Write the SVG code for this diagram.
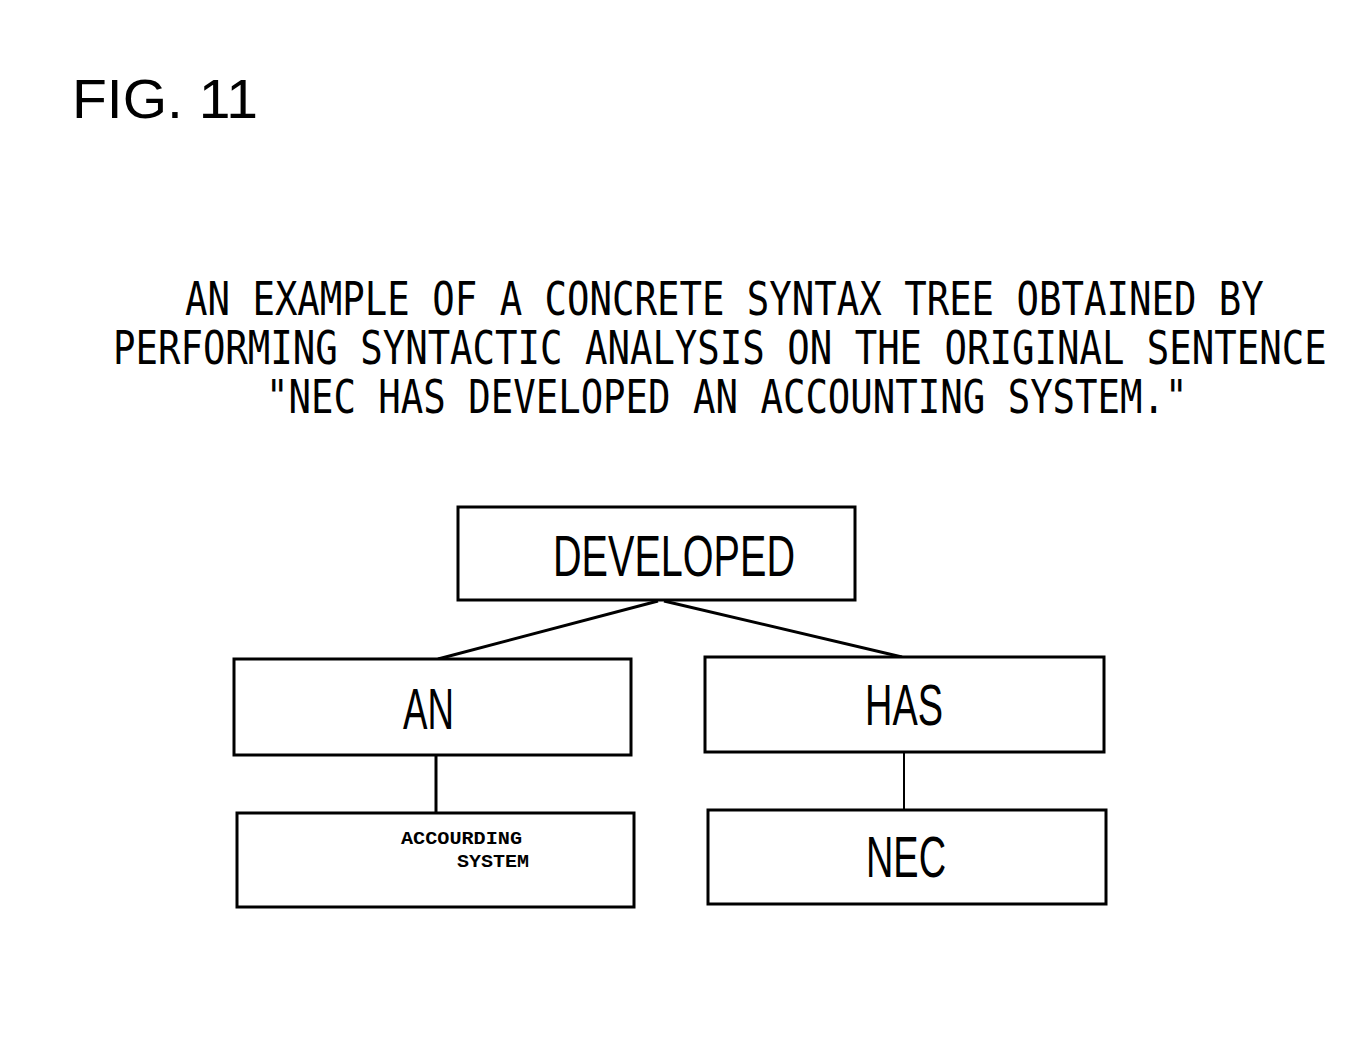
<svg xmlns="http://www.w3.org/2000/svg" width="1350" height="1054" viewBox="0 0 1350 1054">
<style>
.box{fill:#fff;stroke:#000;stroke-width:3}
.lbl{font-family:"Liberation Sans",Arial,sans-serif;font-size:57px;fill:#000}
.ttl{font-family:"DejaVu Sans Mono","Liberation Mono",monospace;font-size:46px;fill:#000}
.mono{font-family:"Liberation Mono","Courier New",monospace;font-weight:bold;font-size:19px;fill:#000}
.edge{stroke:#000;stroke-width:3;fill:none}
</style>
<rect width="1350" height="1054" fill="#fff"/>
<text x="72" y="118" font-family="Liberation Sans, Arial, sans-serif" font-size="55" textLength="186" lengthAdjust="spacingAndGlyphs">FIG. 11</text>
<g id="title">
<text class="ttl" transform="translate(185,315) scale(0.812,1)">AN EXAMPLE OF A CONCRETE SYNTAX TREE OBTAINED BY</text>
<text class="ttl" transform="translate(113,364) scale(0.812,1)">PERFORMING SYNTACTIC ANALYSIS ON THE ORIGINAL SENTENCE</text>
<text class="ttl" transform="translate(266,413) scale(0.812,1)">"NEC HAS DEVELOPED AN ACCOUNTING SYSTEM."</text>
</g>
<g id="connectors">
<line class="edge" x1="658" y1="601" x2="438" y2="659"/>
<line class="edge" x1="664" y1="601" x2="902" y2="657"/>
<line class="edge" x1="436" y1="755" x2="436" y2="813"/>
<line class="edge" x1="904" y1="752" x2="904" y2="810" style="stroke-width:2"/>
</g>
<g id="node-developed">
<rect class="box" x="458" y="507" width="397" height="93"/>
<text class="lbl" x="553" y="576" textLength="242" lengthAdjust="spacingAndGlyphs">DEVELOPED</text>
</g>
<g id="node-an">
<rect class="box" x="234" y="659" width="397" height="96"/>
<text class="lbl" x="403" y="729" textLength="51" lengthAdjust="spacingAndGlyphs">AN</text>
</g>
<g id="node-has">
<rect class="box" x="705" y="657" width="399" height="95"/>
<text class="lbl" x="865" y="725" textLength="78" lengthAdjust="spacingAndGlyphs">HAS</text>
</g>
<g id="node-accourding">
<rect class="box" x="237" y="813" width="397" height="94"/>
<text class="mono" x="401" y="844" textLength="121" lengthAdjust="spacingAndGlyphs">ACCOURDING</text>
<text class="mono" x="457" y="867" textLength="72" lengthAdjust="spacingAndGlyphs">SYSTEM</text>
</g>
<g id="node-nec">
<rect class="box" x="708" y="810" width="398" height="94"/>
<text class="lbl" x="866" y="877" textLength="80" lengthAdjust="spacingAndGlyphs">NEC</text>
</g>
</svg>
